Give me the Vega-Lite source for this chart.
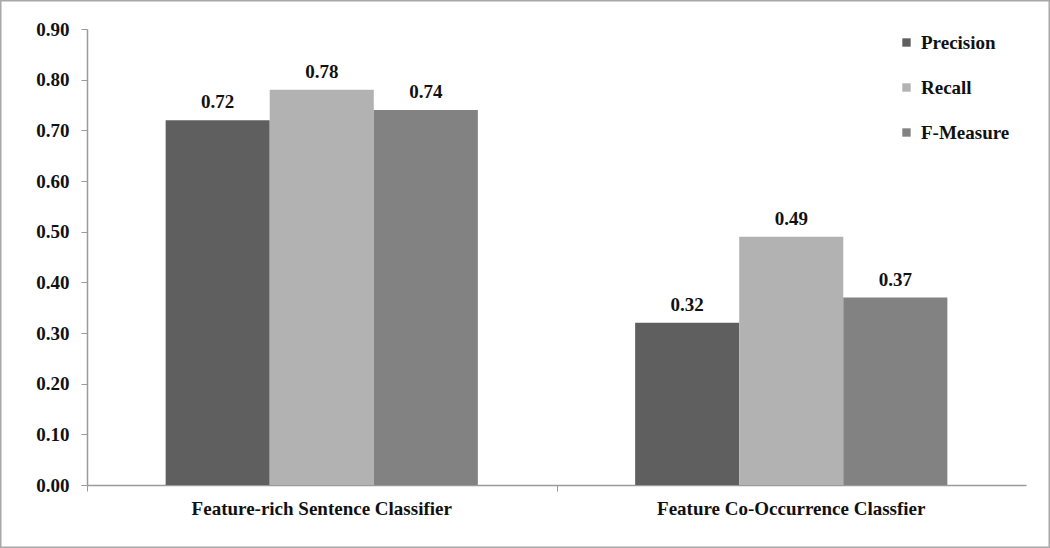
{
  "$schema": "https://vega.github.io/schema/vega-lite/v6.json",
  "width": 1050,
  "height": 548,
  "autosize": {"type": "fit", "contains": "padding"},
  "padding": 0,
  "background": "white",
  "config": {
    "view": {"stroke": "#a8a8a8", "strokeWidth": 3},
    "font": "Liberation Serif"
  },
  "data": {
    "values": [
      {"classifier": "Feature-rich Sentence Classifier", "measure": "Precision", "value": 0.72},
      {"classifier": "Feature-rich Sentence Classifier", "measure": "Recall", "value": 0.78},
      {"classifier": "Feature-rich Sentence Classifier", "measure": "F-Measure", "value": 0.74},
      {"classifier": "Feature Co-Occurrence Classfier", "measure": "Precision", "value": 0.32},
      {"classifier": "Feature Co-Occurrence Classfier", "measure": "Recall", "value": 0.49},
      {"classifier": "Feature Co-Occurrence Classfier", "measure": "F-Measure", "value": 0.37}
    ]
  },
  "encoding": {
    "x": {
      "field": "classifier",
      "type": "nominal",
      "sort": null,
      "scale": {"range": [87, 1026], "paddingInner": 0.335, "paddingOuter": 0.1675},
      "axis": {
        "title": null,
        "orient": "bottom",
        "offset": -63,
        "labelAngle": 0,
        "labelLimit": 0,
        "labelFont": "Liberation Serif",
        "labelFontSize": 19,
        "labelFontWeight": "bold",
        "labelColor": "#111111",
        "labelPadding": 8,
        "domainColor": "#9a9a9a",
        "domainWidth": 1.5,
        "tickColor": "#9a9a9a",
        "tickSize": 6,
        "bandPosition": -0.25
      }
    },
    "xOffset": {"field": "measure", "type": "nominal", "sort": ["Precision", "Recall", "F-Measure"]},
    "y": {
      "field": "value",
      "type": "quantitative",
      "scale": {"domain": [0, 0.9], "range": [485, 29], "nice": false},
      "axis": {
        "title": null,
        "orient": "left",
        "offset": -87,
        "values": [0, 0.1, 0.2, 0.3, 0.4, 0.5, 0.6, 0.7, 0.8, 0.9],
        "format": ".2f",
        "grid": false,
        "labelFont": "Liberation Serif",
        "labelFontSize": 19,
        "labelFontWeight": "bold",
        "labelColor": "#111111",
        "labelPadding": 12,
        "domainColor": "#9a9a9a",
        "domainWidth": 1.5,
        "tickColor": "#9a9a9a",
        "tickSize": 6
      }
    }
  },
  "layer": [
    {
      "mark": {"type": "bar"},
      "encoding": {
        "color": {
          "field": "measure",
          "type": "nominal",
          "sort": ["Precision", "Recall", "F-Measure"],
          "scale": {"domain": ["Precision", "Recall", "F-Measure"], "range": ["#5f5f5f", "#b2b2b2", "#828282"]},
          "legend": {
            "title": null,
            "orient": "none",
            "legendX": 897,
            "legendY": 33,
            "symbolType": "square",
            "symbolSize": 70,
            "symbolStrokeWidth": 0,
            "rowPadding": 25,
            "labelFont": "Liberation Serif",
            "labelFontSize": 19,
            "labelFontWeight": "bold",
            "labelColor": "#111111",
            "labelOffset": 5
          }
        }
      }
    },
    {
      "mark": {"type": "text", "dy": -18, "font": "Liberation Serif", "fontSize": 19, "fontWeight": "bold", "color": "#111111"},
      "encoding": {
        "text": {"field": "value", "type": "quantitative", "format": ".2f"}
      }
    }
  ]
}
